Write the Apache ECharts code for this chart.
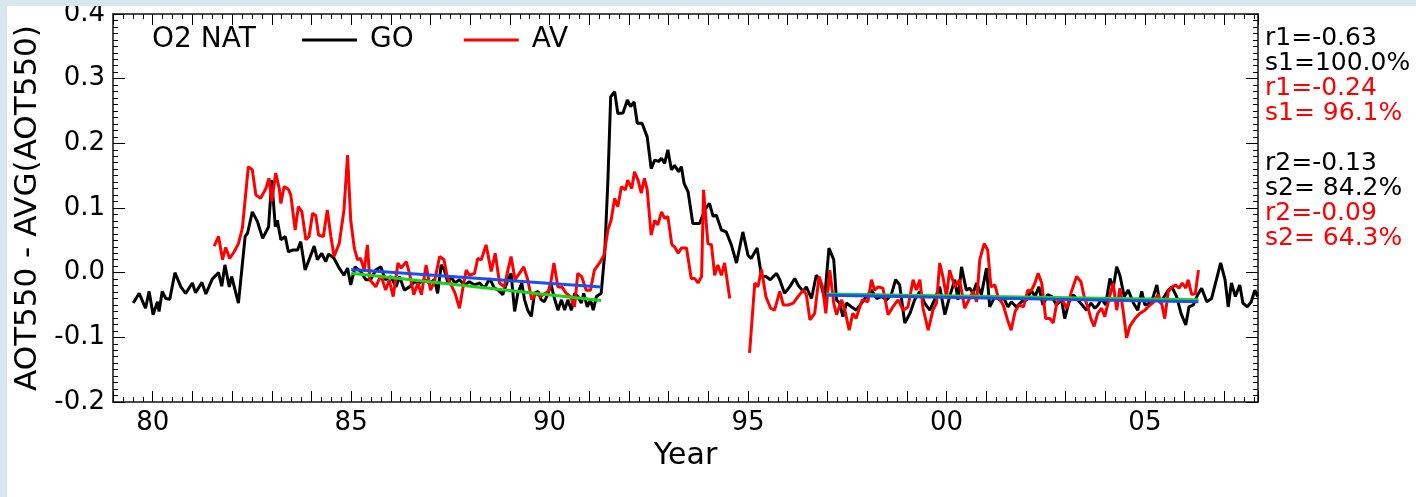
<!DOCTYPE html>
<html>
<head>
<meta charset="utf-8">
<script src="https://cdn.jsdelivr.net/npm/echarts@6.0.0/dist/echarts.min.js"></script>
<style>
  html, body { margin: 0; padding: 0; background: #ffffff; }
  #chart { width: 1416px; height: 497px; }
</style>
</head>
<body>
<div id="chart"></div>
<script>
// years are two-digit (100 = 2000), values are AOT550 anomalies
const goData = [
  [79.51,-0.047],[79.66,-0.032],[79.82,-0.055],[79.91,-0.029],[80.01,-0.065],[80.12,-0.045],[80.16,-0.060],[80.24,-0.029],
  [80.33,-0.040],[80.43,-0.041],[80.56,0.000],[80.71,-0.022],[80.83,-0.032],[81.0,-0.016],[81.08,-0.031],[81.24,-0.015],
  [81.34,-0.033],[81.5,-0.010],[81.66,0.000],[81.74,-0.021],[81.82,0.012],[81.93,-0.022],[81.99,-0.006],[82.16,-0.047],
  [82.33,0.056],[82.39,0.061],[82.51,0.094],[82.64,0.079],[82.77,0.053],[82.92,0.071],[83.0,0.143],[83.09,0.071],
  [83.14,0.081],[83.23,0.051],[83.34,0.056],[83.42,0.032],[83.52,0.035],[83.65,0.035],[83.73,0.048],[83.84,0.004],
  [83.94,0.020],[84.07,0.041],[84.15,0.020],[84.26,0.030],[84.36,0.017],[84.43,0.029],[84.57,0.022],[84.70,0.007],
  [84.82,-0.004],[84.91,0.007],[84.99,-0.019],[85.10,0.009],[85.24,0.002],[85.37,-0.011],[85.49,-0.011],[85.62,0.004],
  [85.75,0.009],[85.86,-0.011],[86.0,-0.006],[86.13,-0.022],[86.22,-0.006],[86.34,-0.027],[86.47,-0.022],[86.60,-0.014],
  [86.72,-0.016],[86.85,-0.011],[86.97,-0.016],[87.10,-0.011],[87.18,-0.032],[87.27,0.012],[87.35,0.004],[87.44,-0.016],
  [87.52,-0.006],[87.61,-0.016],[87.73,-0.011],[87.86,-0.019],[87.98,-0.014],[88.11,-0.019],[88.24,-0.016],[88.36,-0.024],
  [88.49,-0.009],[88.61,-0.024],[88.71,-0.027],[88.82,-0.034],[88.95,-0.011],[89.03,-0.001],[89.12,-0.060],[89.20,-0.032],
  [89.30,-0.016],[89.37,-0.042],[89.45,-0.058],[89.54,-0.068],[89.62,-0.032],[89.71,-0.029],[89.79,-0.042],[89.87,-0.045],
  [89.96,-0.032],[90.03,-0.016],[90.11,-0.037],[90.21,-0.058],[90.30,-0.042],[90.38,-0.058],[90.46,-0.042],[90.55,-0.058],
  [90.63,-0.032],[90.71,-0.037],[90.80,-0.047],[90.86,-0.032],[90.95,-0.053],[91.03,-0.042],[91.10,-0.058],[91.18,-0.037],
  [91.30,-0.032],[91.39,0.030],[91.47,0.143],[91.54,0.272],[91.64,0.280],[91.72,0.246],[91.85,0.247],[91.96,0.267],
  [92.04,0.257],[92.13,0.264],[92.21,0.231],[92.33,0.231],[92.46,0.210],[92.56,0.161],[92.65,0.174],[92.75,0.172],
  [92.82,0.177],[92.90,0.169],[92.98,0.190],[93.07,0.159],[93.15,0.166],[93.25,0.156],[93.32,0.164],[93.39,0.138],
  [93.49,0.125],[93.61,0.076],[93.78,0.076],[93.91,0.097],[94.03,0.107],[94.12,0.087],[94.20,0.089],[94.33,0.066],
  [94.45,0.063],[94.58,0.043],[94.71,0.015],[94.87,0.063],[95.0,0.027],[95.08,0.022],[95.23,0.038],[95.34,-0.006],
  [95.46,-0.006],[95.56,-0.011],[95.72,-0.001],[95.80,-0.011],[95.92,-0.032],[96.05,-0.022],[96.18,-0.009],[96.26,-0.019],
  [96.39,-0.029],[96.47,-0.022],[96.60,-0.040],[96.72,-0.004],[96.81,-0.011],[96.93,-0.040],[97.04,0.038],[97.16,0.020],
  [97.23,-0.042],[97.31,-0.047],[97.39,-0.068],[97.48,-0.047],[97.61,-0.053],[97.73,-0.058],[97.86,-0.047],[97.98,-0.037],
  [98.11,-0.027],[98.24,-0.040],[98.36,-0.037],[98.49,-0.042],[98.61,-0.034],[98.72,-0.011],[98.82,-0.019],[98.95,-0.078],
  [99.08,-0.063],[99.20,-0.042],[99.33,-0.029],[99.45,-0.047],[99.58,-0.058],[99.70,-0.042],[99.83,-0.022],[99.96,-0.065],
  [100.08,-0.037],[100.21,-0.011],[100.29,-0.042],[100.38,0.009],[100.50,-0.027],[100.59,-0.024],[100.67,-0.032],[100.76,-0.016],
  [100.88,-0.034],[101.01,0.007],[101.09,-0.053],[101.22,-0.037],[101.34,-0.042],[101.45,-0.040],[101.55,-0.053],[101.64,-0.045],
  [101.76,-0.053],[101.89,-0.045],[102.02,-0.042],[102.14,-0.027],[102.23,-0.037],[102.33,-0.022],[102.43,-0.050],[102.55,-0.034],
  [102.66,-0.037],[102.77,-0.050],[102.90,-0.042],[102.98,-0.071],[103.08,-0.047],[103.19,-0.034],[103.31,-0.042],[103.42,-0.050],
  [103.53,-0.058],[103.64,-0.047],[103.74,-0.055],[103.82,-0.050],[103.91,-0.040],[104.01,-0.050],[104.12,-0.009],[104.20,-0.024],
  [104.29,0.009],[104.37,-0.004],[104.48,-0.037],[104.58,-0.027],[104.71,-0.047],[104.82,-0.058],[104.92,-0.029],[105.0,-0.050],
  [105.13,-0.047],[105.21,-0.037],[105.30,-0.019],[105.38,-0.047],[105.49,-0.037],[105.59,-0.027],[105.68,-0.022],[105.80,-0.037],
  [105.91,-0.063],[106.03,-0.081],[106.11,-0.053],[106.22,-0.050],[106.33,-0.034],[106.43,-0.024],[106.56,-0.045],[106.68,-0.040],
  [106.81,-0.009],[106.91,0.015],[107.02,-0.011],[107.10,-0.053],[107.18,-0.016],[107.28,-0.037],[107.39,-0.019],[107.47,-0.047],
  [107.58,-0.053],[107.68,-0.045],[107.77,-0.027],[107.84,-0.037]
];

// AV record, before the gap
const avEarly = [
  [81.55,0.041],[81.66,0.056],[81.76,0.020],[81.84,0.039],[81.94,0.022],[82.05,0.032],[82.16,0.045],[82.26,0.069],
  [82.41,0.164],[82.51,0.159],[82.60,0.120],[82.72,0.115],[82.85,0.130],[82.93,0.146],[83.0,0.110],[83.10,0.154],
  [83.19,0.130],[83.23,0.107],[83.31,0.133],[83.42,0.129],[83.48,0.120],[83.59,0.066],[83.67,0.102],[83.76,0.094],
  [83.86,0.051],[83.94,0.056],[84.03,0.092],[84.11,0.088],[84.18,0.058],[84.30,0.056],[84.40,0.097],[84.49,0.056],
  [84.57,0.025],[84.70,0.045],[84.82,0.097],[84.91,0.182],[84.99,0.081],[85.08,0.038],[85.16,0.020],[85.24,0.022],
  [85.33,0.004],[85.41,0.043],[85.47,-0.011],[85.62,-0.022],[85.75,-0.004],[85.87,-0.027],[85.96,-0.011],[86.06,-0.037],
  [86.18,0.015],[86.26,0.007],[86.39,0.017],[86.47,-0.001],[86.58,-0.034],[86.68,-0.016],[86.77,-0.034],[86.89,0.012],
  [87.0,-0.027],[87.10,-0.014],[87.23,0.025],[87.34,0.020],[87.42,-0.006],[87.52,-0.019],[87.62,-0.032],[87.73,-0.055],
  [87.82,-0.022],[87.90,0.004],[87.98,-0.004],[88.11,-0.001],[88.19,0.022],[88.28,0.020],[88.40,0.043],[88.53,0.002],
  [88.63,0.030],[88.74,-0.016],[88.86,-0.022],[88.95,0.004],[89.03,0.025],[89.13,-0.011],[89.24,-0.001],[89.35,0.009],
  [89.45,-0.011],[89.55,-0.042],[89.66,-0.032],[89.77,-0.037],[89.89,-0.032],[90.0,-0.027],[90.11,0.015],[90.21,-0.022],
  [90.31,-0.022],[90.42,-0.032],[90.53,-0.037],[90.63,-0.053],[90.71,-0.001],[90.81,-0.006],[90.92,-0.027],[91.03,-0.027],
  [91.13,0.004],[91.26,0.015],[91.37,0.027],[91.47,0.066],[91.55,0.081],[91.64,0.115],[91.72,0.102],[91.81,0.133],
  [91.91,0.128],[91.97,0.143],[92.07,0.130],[92.14,0.156],[92.23,0.143],[92.31,0.123],[92.39,0.146],[92.46,0.128],
  [92.56,0.058],[92.65,0.081],[92.73,0.074],[92.82,0.094],[92.90,0.084],[92.98,0.087],[93.08,0.043],[93.15,0.040],
  [93.24,0.030],[93.32,0.038],[93.45,0.038],[93.57,-0.009],[93.66,-0.009],[93.74,-0.016],[93.83,-0.006],[93.88,0.128],
  [93.99,0.045],[94.08,0.043],[94.16,-0.004],[94.24,0.012],[94.33,-0.004],[94.41,0.015],[94.54,-0.040]
];

// AV record, after the gap
const avLate = [
  [95.04,-0.124],[95.17,-0.016],[95.25,-0.022],[95.34,0.005],[95.45,-0.037],[95.57,-0.055],[95.67,-0.058],[95.80,-0.029],
  [95.89,-0.050],[96.01,-0.050],[96.14,-0.047],[96.26,-0.037],[96.39,-0.027],[96.47,-0.034],[96.56,-0.073],[96.68,-0.063],
  [96.79,-0.006],[96.88,-0.022],[96.96,-0.063],[97.06,0.004],[97.16,-0.047],[97.23,-0.065],[97.36,-0.042],[97.44,-0.058],
  [97.55,-0.089],[97.64,-0.063],[97.72,-0.071],[97.88,-0.042],[98.02,-0.045],[98.11,-0.011],[98.19,-0.027],[98.28,-0.022],
  [98.40,-0.024],[98.53,-0.065],[98.65,-0.053],[98.78,-0.042],[98.91,-0.058],[99.03,-0.053],[99.16,-0.011],[99.24,-0.027],
  [99.33,-0.011],[99.41,-0.055],[99.54,-0.089],[99.66,-0.058],[99.75,-0.047],[99.83,0.015],[99.91,-0.006],[100.0,-0.037],
  [100.08,0.004],[100.21,-0.022],[100.33,-0.011],[100.46,-0.055],[100.58,-0.040],[100.67,-0.029],[100.76,-0.045],[100.84,0.020],
  [100.95,0.045],[101.04,0.035],[101.12,-0.022],[101.22,-0.019],[101.30,-0.037],[101.43,-0.050],[101.54,-0.073],[101.63,-0.089],
  [101.73,-0.060],[101.83,-0.050],[101.94,-0.053],[102.05,-0.027],[102.13,-0.029],[102.23,-0.016],[102.31,-0.001],[102.40,-0.016],
  [102.50,-0.071],[102.61,-0.071],[102.69,-0.078],[102.78,-0.047],[102.90,-0.040],[103.03,-0.055],[103.15,-0.029],[103.28,-0.006],
  [103.39,-0.014],[103.47,-0.037],[103.56,-0.053],[103.64,-0.071],[103.72,-0.083],[103.81,-0.063],[103.91,-0.055],[103.99,-0.068],
  [104.09,-0.042],[104.20,-0.016],[104.29,-0.058],[104.37,-0.024],[104.45,-0.058],[104.54,-0.101],[104.62,-0.083],[104.75,-0.071],
  [104.87,-0.063],[105.0,-0.058],[105.13,-0.050],[105.23,-0.045],[105.33,-0.034],[105.43,-0.050],[105.50,-0.071],[105.59,-0.029],
  [105.69,-0.022],[105.77,-0.019],[105.86,-0.024],[105.94,-0.016],[106.03,-0.024],[106.09,-0.011],[106.18,-0.034],[106.27,-0.032],
  [106.35,0.004]
];

// linear fits over the two periods
const blueFit1 = [[85.0, 0.005], [91.3, -0.022]];
const greenFit1 = [[85.0, -0.001], [91.3, -0.043]];
const greenFit2 = [[96.98, -0.033], [106.35, -0.042]];
const blueFit2 = [[96.98, -0.035], [106.35, -0.045]];

const statsGO1 = ['r1=-0.63', 's1=100.0%'];
const statsAV1 = ['r1=-0.24', 's1= 96.1%'];
const statsGO2 = ['r2=-0.13', 's2= 84.2%'];
const statsAV2 = ['r2=-0.09', 's2= 64.3%'];

const FONT = 'DejaVu Sans';
const chart = echarts.init(document.getElementById('chart'));

function statText(lines, color, y0) {
  return lines.map((t, i) => ({
    type: 'text', left: 1265, top: y0 + i * 25,
    style: { text: t, fill: color, font: '25px "DejaVu Sans"' }
  }));
}

const tickStyle = { color: '#000', width: 1 };
const xBase = {
  type: 'value', min: 79, max: 107.85, interval: 1,
  axisLine: { show: true, onZero: false, lineStyle: { color: '#111', width: 1.5 } },
  axisTick: { show: true, inside: true, length: 11, lineStyle: tickStyle },
  minorTick: { show: true, splitNumber: 4, length: 5, lineStyle: tickStyle },
  splitLine: { show: false }
};
const yBase = {
  type: 'value', min: -0.2, max: 0.4, interval: 0.1,
  axisLine: { show: true, onZero: false, lineStyle: { color: '#111', width: 1.5 } },
  axisTick: { show: true, inside: true, length: 12, lineStyle: tickStyle },
  minorTick: { show: true, splitNumber: 10, length: 5, lineStyle: tickStyle },
  splitLine: { show: false }
};

chart.setOption({
  animation: false,
  backgroundColor: '#ffffff',
  textStyle: { fontFamily: FONT },
  title: {
    text: 'O2 NAT', left: 152, top: 26, padding: 0,
    textStyle: { fontFamily: FONT, fontSize: 28, fontWeight: 'normal', color: '#000' }
  },
  legend: {
    data: ['GO', 'AV'], left: 302, top: 26, padding: 0,
    icon: 'rect', itemWidth: 55, itemHeight: 3, itemGap: 50,
    textStyle: { fontFamily: FONT, fontSize: 28, color: '#000', padding: [0, 0, 0, 8] }
  },
  grid: { left: 113, top: 14, width: 1145, height: 388 },
  xAxis: [
    Object.assign({}, xBase, {
      position: 'bottom', name: 'Year', nameLocation: 'middle', nameGap: 36,
      nameTextStyle: { fontFamily: FONT, fontSize: 30, color: '#000', verticalAlign: 'top' },
      axisLabel: {
        show: true, margin: 8, fontFamily: FONT, fontSize: 26, color: '#000',
        formatter: v => {
          const r = Math.round(v);
          if (Math.abs(v - r) > 1e-6 || r % 5 !== 0) return '';
          return String(r % 100).padStart(2, '0');
        }
      }
    }),
    Object.assign({}, xBase, { position: 'top', axisLabel: { show: false } })
  ],
  yAxis: [
    Object.assign({}, yBase, {
      position: 'left', name: 'AOT550 - AVG(AOT550)', nameLocation: 'middle', nameGap: 67,
      nameTextStyle: { fontFamily: FONT, fontSize: 31, color: '#000' },
      axisLabel: {
        show: true, margin: 8, fontFamily: FONT, fontSize: 26, color: '#000',
        formatter: v => v.toFixed(1)
      }
    }),
    Object.assign({}, yBase, { position: 'right', axisLabel: { show: false } })
  ],
  graphic: [
    { type: 'rect', left: 0, top: 0, shape: { width: 1416, height: 6 }, style: { fill: '#d6e8ed' }, z: 100 },
    { type: 'rect', left: 0, top: 0, shape: { width: 7, height: 497 }, style: { fill: '#d6e8ed' }, z: 100 },
    ...statText(statsGO1, '#000', 26),
    ...statText(statsAV1, '#ff0000', 76),
    ...statText(statsGO2, '#000', 151),
    ...statText(statsAV2, '#ff0000', 201)
  ],
  series: [
    { name: 'GO', type: 'line', data: goData, showSymbol: false, color: '#000',
      lineStyle: { color: '#000', width: 3 } },
    { name: 'AV', type: 'line', data: avEarly, showSymbol: false, color: '#ff0000',
      lineStyle: { color: '#ff0000', width: 3 } },
    { name: 'AV', type: 'line', data: avLate, showSymbol: false, color: '#ff0000',
      lineStyle: { color: '#ff0000', width: 3 } },
    { type: 'line', data: greenFit1, showSymbol: false, lineStyle: { color: '#19d419', width: 3 } },
    { type: 'line', data: blueFit1, showSymbol: false, lineStyle: { color: '#1d4ff0', width: 3 } },
    { type: 'line', data: greenFit2, showSymbol: false, lineStyle: { color: '#19d419', width: 3 } },
    { type: 'line', data: blueFit2, showSymbol: false, lineStyle: { color: '#1d4ff0', width: 3 } }
  ]
});
</script>
</body>
</html>
